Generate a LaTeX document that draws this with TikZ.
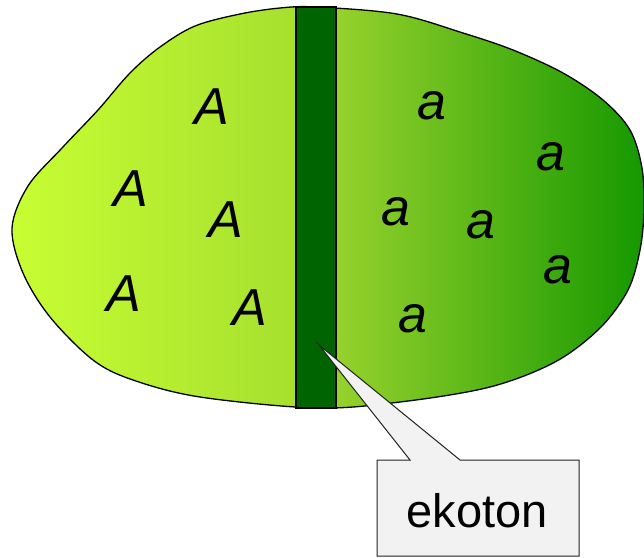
\documentclass[tikz,border=0pt]{standalone}
\usepackage{fontspec}
\setmainfont{Liberation Sans}
\definecolor{lgA}{HTML}{C8FF33}
\definecolor{lgB}{HTML}{A6E02E}
\definecolor{rgA}{HTML}{96D22C}
\definecolor{rgB}{HTML}{169800}
\definecolor{bandgreen}{HTML}{006400}
\definecolor{calloutfill}{HTML}{F2F2F2}
\definecolor{calloutline}{HTML}{222222}
\begin{document}
\begin{tikzpicture}[x=1pt,y=-1pt,
  letter/.style={anchor=base, inner sep=0pt, font=\fontsize{52}{52}\selectfont\itshape},
  outline/.style={draw=black, line width=1.3pt},
  callout/.style={draw=calloutline, fill=calloutfill, line width=1pt, line join=miter},
  lbl/.style={anchor=base, inner sep=0pt, font=\fontsize{47}{47}\selectfont}]
\useasboundingbox (0,0) rectangle (644,557);
% blob fill
\begin{scope}
\clip plot[smooth cycle, tension=0.55] coordinates {
 (316,7) (397,14) (463,33) (513,50) (563,73) (603,100) (630,130) (642,168)
 (644,210) (640,250) (628,290) (600,328) (555,362) (490,387)
 (400,402) (316,408) (200,397) (133,380) (93,360) (50,317) (23,273)
 (12,228) (28,186) (62,148) (98,110) (130,73) (160,47)
 (195,26) (240,14) (280,8)};
\shade[left color=lgA, right color=lgB] (0,0) rectangle (296,420);
\shade[left color=rgA, right color=rgB] (336,0) rectangle (644,420);
\end{scope}
\draw[outline] plot[smooth cycle, tension=0.55] coordinates {
 (316,7) (397,14) (463,33) (513,50) (563,73) (603,100) (630,130) (642,168)
 (644,210) (640,250) (628,290) (600,328) (555,362) (490,387)
 (400,402) (316,408) (200,397) (133,380) (93,360) (50,317) (23,273)
 (12,228) (28,186) (62,148) (98,110) (130,73) (160,47)
 (195,26) (240,14) (280,8)};
% ecotone band
\node (band) [draw=black, line width=1.3pt, fill=bandgreen, minimum width=40pt,
  minimum height=401pt, inner sep=0pt] at (316,207.5) {};
% letters
\node[letter] (A1) at (212,124) {A};
\node[letter] (A2) at (131,206) {A};
\node[letter] (A3) at (226,237) {A};
\node[letter] (A4) at (124,311) {A};
\node[letter] (A5) at (250,325) {A};
\node[letter] (a1) at (432,119) {a};
\node[letter] (a2) at (551,170) {a};
\node[letter] (a3) at (396,225) {a};
\node[letter] (a4) at (481,238) {a};
\node[letter] (a5) at (558,283) {a};
\node[letter] (a6) at (413,332) {a};
% callout
\coordinate (tip) at (319,345);
\draw[callout] (377,460) -- (410,460) -- (tip) -- (460,460) -- (579,460)
  -- (579,556) -- (377,556) -- cycle;
\node[lbl] (ek) at (477,527) {ekoton};
\end{tikzpicture}
\end{document}
